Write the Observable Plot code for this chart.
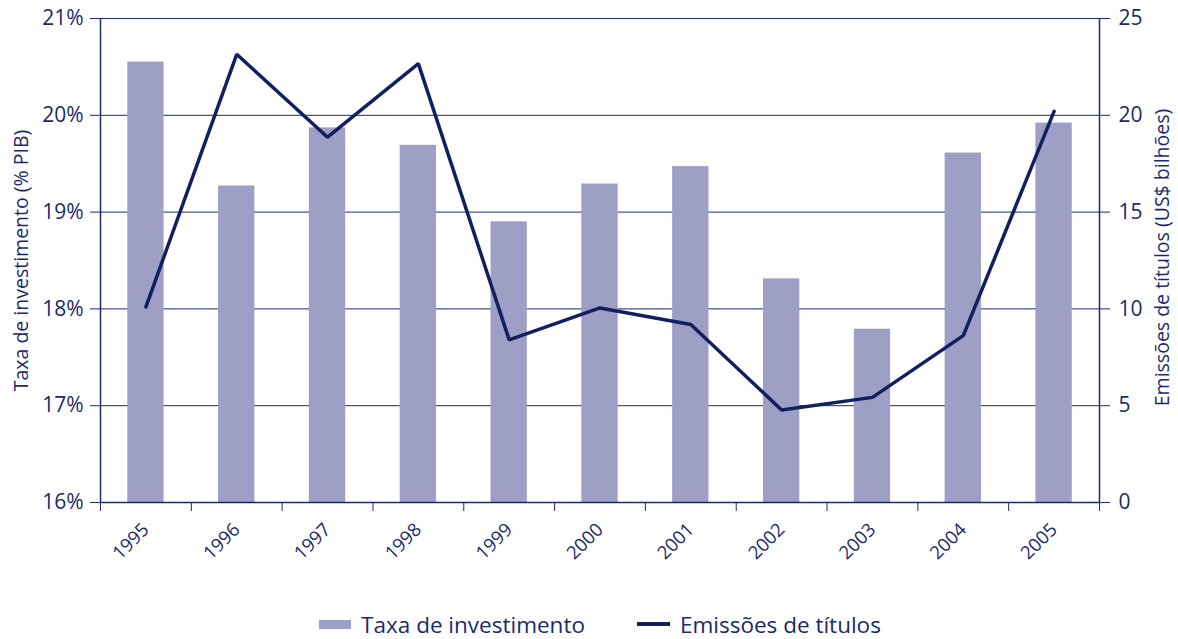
<!DOCTYPE html>
<html><head><meta charset="utf-8">
<script src="https://cdn.jsdelivr.net/npm/d3@7"></script>
<script src="https://cdn.jsdelivr.net/npm/@observablehq/plot@0.6"></script>
<style>
body{margin:0;background:#fff;font-family:"Open Sans",sans-serif;color:#1b2a6b;}
#legend{display:flex;justify-content:center;align-items:center;height:42px;padding-top:13px;padding-left:22px;font-size:22.5px;}
.item{display:flex;align-items:center;}
.item + .item{margin-left:52px;}
.sw-bar{width:32px;height:9px;background:#9d9fc4;margin-right:10px;}
.sw-line{width:33px;height:3.5px;background:#13205f;margin-right:10px;}
</style></head><body>
<div id="chart"></div>
<div id="legend">
  <div class="item"><span class="sw-bar"></span>Taxa de investimento</div>
  <div class="item"><span class="sw-line"></span>Emissões de títulos</div>
</div>
<script>
const years = [1995,1996,1997,1998,1999,2000,2001,2002,2003,2004,2005];
const taxaInvestimento = [20.55,19.27,19.87,19.69,18.90,19.29,19.47,18.31,17.79,19.61,19.92];
const emissoesTitulos = [10.1,23.15,18.87,22.67,8.40,10.05,9.19,4.78,5.43,8.62,20.2];
const leftTicks = [16,17,18,19,20,21];
const rightTicks = [0,5,10,15,20,25];

const NAVY = "#1b2a6b";
const LINE = "#13205f";
const BAR = "#9d9fc4";
const yMin = 16, yMax = 21, rMax = 25;
const toLeft = v => yMin + v * (yMax - yMin) / rMax;
const fromLeft = y => Math.round((y - yMin) * rMax / (yMax - yMin));

const data = years.map((year, i) => ({year, taxa: taxaInvestimento[i], emissoes: emissoesTitulos[i]}));
const bounds = years.map(y => y - 0.5).concat([years[years.length - 1] + 0.5]);

const chart = Plot.plot({
  width: 1178, height: 590,
  marginLeft: 100, marginRight: 79, marginTop: 18, marginBottom: 88,
  style: "font-family:'Open Sans',sans-serif;font-size:20px;color:#1b2a6b;background:#fff;overflow:visible;",
  x: {type: "linear", domain: [bounds[0], bounds[bounds.length - 1]]},
  y: {domain: [yMin, yMax]},
  marks: [
    Plot.gridY(leftTicks, {stroke: NAVY, strokeOpacity: 1, strokeWidth: 1}),
    Plot.rectY(data, {x1: d => d.year - 0.2, x2: d => d.year + 0.2, y1: yMin, y2: "taxa", fill: BAR}),
    Plot.ruleX([bounds[0], bounds[bounds.length - 1]], {stroke: NAVY, strokeWidth: 1.5}),
    Plot.ruleY([yMin], {stroke: NAVY, strokeWidth: 1.5}),
    Plot.line(data, {x: "year", y: d => toLeft(d.emissoes), stroke: LINE, strokeWidth: 3.5, strokeLinejoin: "miter"}),
    Plot.axisY({ticks: leftTicks, tickSize: 10, tickPadding: 7, tickFormat: d => d + "%", stroke: NAVY, fontSize: 21, label: null}),
    Plot.axisY({anchor: "right", ticks: rightTicks.map(toLeft), tickSize: 10, tickPadding: 9, tickFormat: fromLeft, stroke: NAVY, fontSize: 21, label: null}),
    Plot.text(["Taxa de investimento (% PIB)"], {frameAnchor: "left", dx: -79, rotate: -90, fill: NAVY, fontSize: 19.5, textAnchor: "middle"}),
    Plot.text(["Emissões de títulos (US$ bilhões)"], {frameAnchor: "right", dx: 63, dy: -3, rotate: -90, fill: NAVY, fontSize: 19.5, textAnchor: "middle"}),
    Plot.axisX({ticks: bounds, tickSize: 9, tickFormat: () => "", stroke: NAVY, label: null}),
    Plot.axisX({ticks: years, tickSize: 0, tickPadding: 24, tickRotate: -45, tickFormat: d => String(d), label: null, fontSize: 18.5})
  ]
});
document.getElementById("chart").append(chart);
</script>
</body></html>
